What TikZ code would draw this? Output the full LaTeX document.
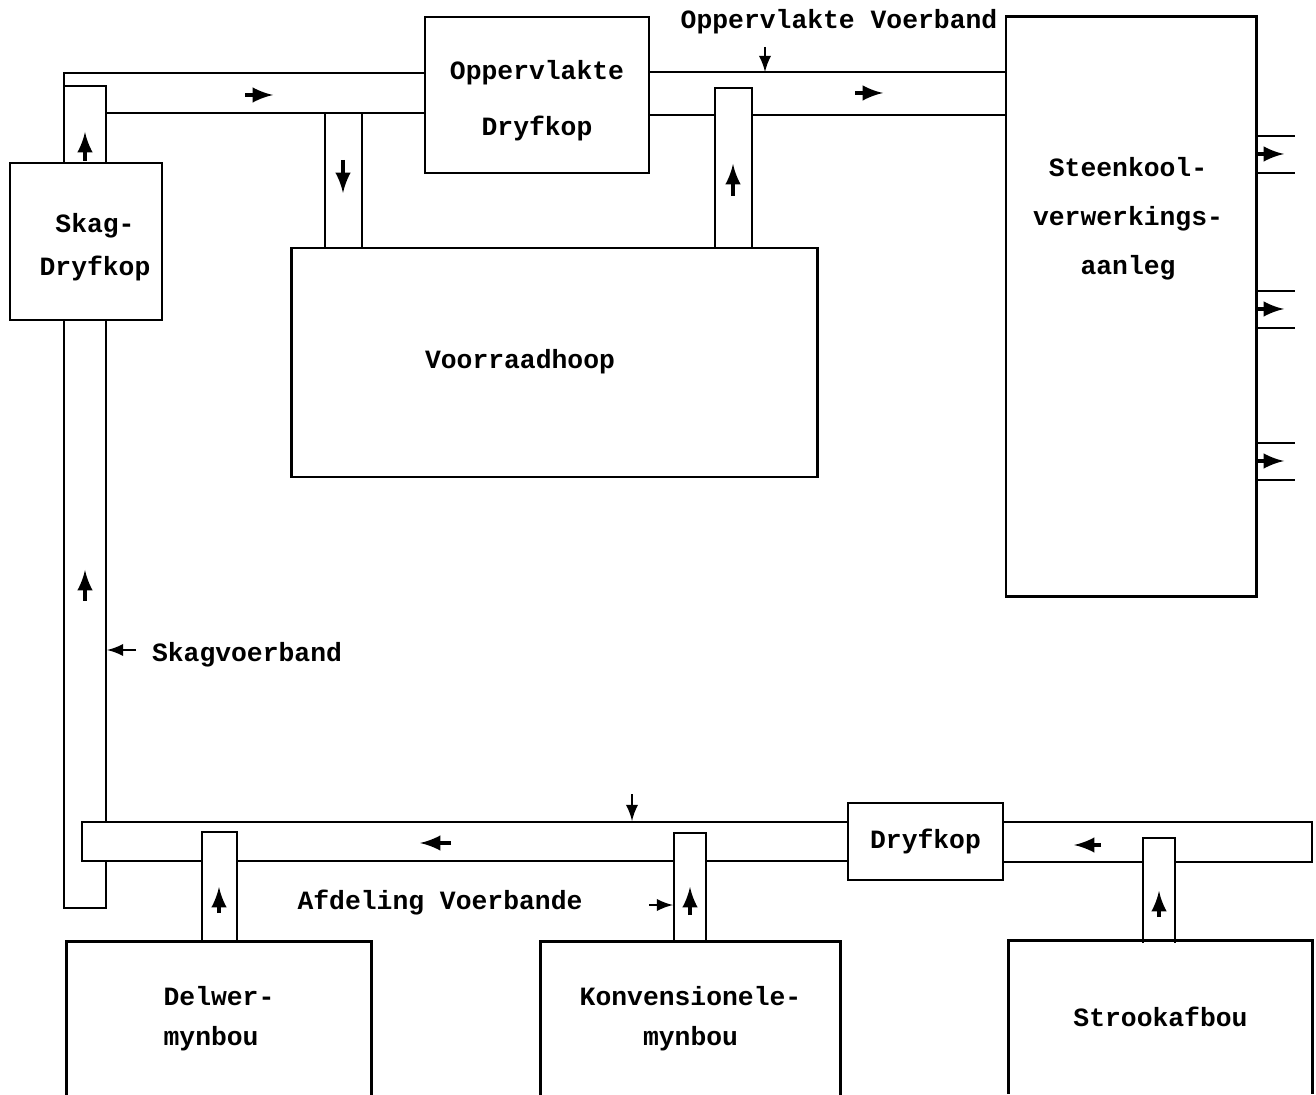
\documentclass[tikz,border=0pt]{standalone}
\usepackage{fontspec}
\setmonofont{Liberation Mono}
\usepackage{tikz}
\usetikzlibrary{arrows}
\usetikzlibrary{positioning}

\tikzset{
  blok/.style={draw, line width=0.8pt, inner sep=0pt},
  oop/.style={inner sep=0pt},
  skrif/.style={font=\ttfamily\bfseries\fontsize{7.5}{#1}\selectfont, align=center, inner sep=0pt},
  skrif/.default=12,
  band/.style={line width=0.8pt},
  vloei/.style={-latex, line width=1pt},
  wys/.style={-latex, line width=0.6pt}
}

\begin{document}
\begin{tikzpicture}[x=0.01cm, y=-0.01cm]

    \useasboundingbox (0,0) rectangle (1316,1095);

    % blokke
    \node [blok, minimum width=1.52cm, minimum height=1.57cm]
      (skag) at (86,241.5) {};
    \node [skrif=12.2] (skagteks) at (95,247) {Skag-\\Dryfkop};
    \node [blok, minimum width=2.24cm, minimum height=1.56cm]
      (opp) at (537,95) {};
    \node [skrif=15.9] (oppteks) at (537,101) {Oppervlakte\\Dryfkop};
    \node [blok, minimum width=2.50cm, minimum height=5.79cm]
      (steen) at (1131,306.5) {};
    \node [skrif=13.9] (steenteks) at (1128,219)
      {Steenkool-\\verwerkings-\\aanleg};
    \node [blok, minimum width=5.25cm, minimum height=2.29cm]
      (voor) at (554.5,362.5) {};
    \node [skrif] (voorteks) at (520,362) {Voorraadhoop};
    \node [blok, minimum width=1.55cm, minimum height=0.77cm, skrif]
      (dryf) at (925.5,841.5) {Dryfkop};

    \node [oop, minimum width=3.04cm, minimum height=1.53cm, skrif=11.4, align=left]
      (delwer) at (219,1018.5) {Delwer-\\mynbou};
    \node [oop, minimum width=2.99cm, minimum height=1.53cm, skrif=11.4]
      (konv) at (690.5,1018.5) {Konvensionele-\\mynbou};
    \node [oop, minimum width=3.03cm, minimum height=1.52cm, skrif]
      (strook) at (1160.5,1017) {Strookafbou};
    \foreach \b in {delwer,konv,strook}
      \draw [band] (\b.south west) |- (\b.north east) -- (\b.south east);

    % bo-band na oppervlakte dryfkop
    \draw [band] (64,163) -- (64,73) -- (425,73);
    \draw [band] (64,86) -- (106,86) -- (106,163);
    \draw [band] (106,113) -- (425,113);
    \draw [band] (325,113) -- (325,248);
    \draw [band] (362,113) -- (362,248);

    % oppervlakte voerband
    \draw [band] (649,72) -- (1006,72);
    \draw [band] (649,115) -- (715,115);
    \draw [band] (752,115) -- (1006,115);
    \draw [band] (715,248) -- (715,88) -- (752,88) -- (752,248);

    % skagvoerband
    \draw [band] (64,320) -- (64,908) -- (106,908) -- (106,860);
    \draw [band] (106,320) -- (106,822);

    % afdeling voerbande
    \draw [band] (848,822) -- (82,822) -- (82,861) -- (202,861);
    \draw [band] (237,861) -- (674,861);
    \draw [band] (706,861) -- (848,861);
    \draw [band] (202,942) -- (202,832) -- (237,832) -- (237,942);
    \draw [band] (674,942) -- (674,833) -- (706,833) -- (706,942);
    \draw [band] (1003,822) -- (1312,822) -- (1312,862) -- (1175,862);
    \draw [band] (1143,862) -- (1003,862);
    \draw [band] (1143,943) -- (1143,838) -- (1175,838) -- (1175,943);

    % uitgange van aanleg
    \foreach \c in {154,309,461} {
      \draw [band] (1256,\c-18) -- (1295,\c-18);
      \draw [band] (1256,\c+19) -- (1295,\c+19);
      \draw [vloei] (1256,\c) -- (1284,\c);
    }

    % vloeirigting
    \draw [vloei] (245,95) -- (273,95);
    \draw [vloei] (855,93) -- (883,93);
    \draw [vloei] (85,161) -- (85,132);
    \draw [vloei] (343,160) -- (343,193);
    \draw [vloei] (733,196) -- (733,164);
    \draw [vloei] (85,601) -- (85,570);
    \draw [vloei] (451,843) -- (420,843);
    \draw [vloei] (1101,845) -- (1074,845);
    \draw [vloei] (219,913) -- (219,887);
    \draw [vloei] (690,915) -- (690,887);
    \draw [vloei] (1159,917) -- (1159,891);

    % byskrifte
    \node [skrif] (oppvb) at (839,22) {Oppervlakte Voerband};
    \node [skrif] (skagvb) at (247,655) {Skagvoerband};
    \node [skrif] (afdvb) at (440,903) {Afdeling Voerbande};
    \draw [wys] (765,47) -- (765,72);
    \draw [wys] (136,650) -- (107,650);
    \draw [wys] (632,794) -- (632,821);
    \draw [wys] (649,905) -- (673,905);

  \end{tikzpicture}
\end{document}
